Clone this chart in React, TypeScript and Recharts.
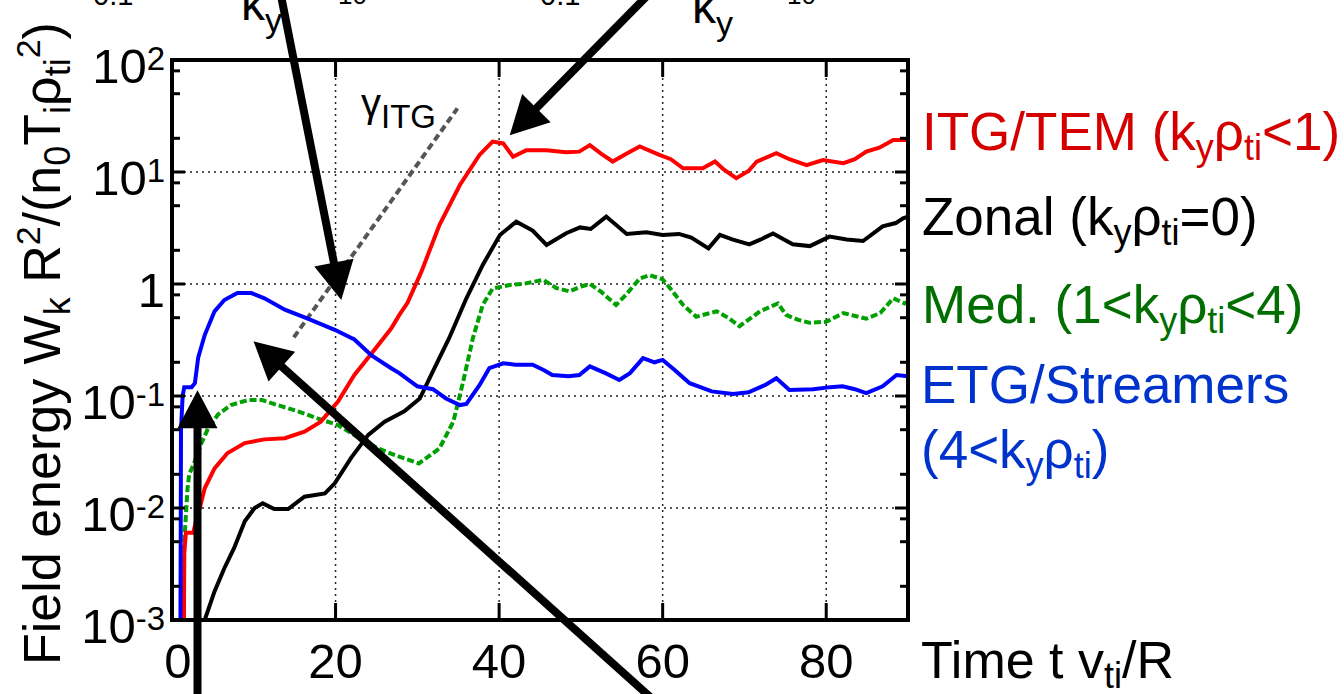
import React from 'react';
import { LineChart, Line, XAxis, YAxis, ReferenceLine } from 'recharts';

const FONT = '"Liberation Sans", Arial, Helvetica, sans-serif';

// ---- data (time t v_ti/R, field energy) ----
const itgT = [1.4, 1.5, 1.7, 2.6, 3.0, 3.4, 4.0, 5.2, 6.8, 8.9, 11.3, 13.8, 16.2, 18.2, 20.3, 22.3, 24.4, 26.8, 27.8, 28.8, 30.5, 32.7, 35.2, 37.6, 39.2, 40.5, 41.7, 43.3, 45.8, 48.2, 49.8, 51.1, 52.5, 53.9, 55.5, 57.2, 59.6, 61.0, 62.5, 64.9, 66.4, 67.5, 69.0, 70.5, 71.5, 73.9, 75.5, 77.6, 79.6, 82.1, 83.5, 84.9, 86.5, 88.2, 90.0];
const itgV = [0.0001, 0.004, 0.006, 0.006, 0.008, 0.010, 0.015, 0.0226, 0.031, 0.038, 0.041, 0.042, 0.048, 0.059, 0.089, 0.154, 0.24, 0.40, 0.53, 0.68, 1.29, 3.36, 7.65, 14.2, 18.7, 18.0, 13.7, 15.6, 15.6, 15.0, 15.2, 17.4, 14.5, 12.4, 14.5, 16.9, 14.2, 13.0, 10.8, 10.8, 12.4, 10.5, 8.8, 10.2, 12.4, 14.7, 13.0, 11.5, 12.8, 12.0, 13.0, 15.2, 16.5, 19.3, 19.3];

const zonalT = [3.8, 4.0, 5.2, 6.4, 7.6, 8.9, 10.1, 11.1, 12.5, 14.2, 16.2, 18.7, 19.9, 21.9, 24.0, 26.0, 28.4, 30.3, 31.9, 33.9, 36.0, 38.0, 40.1, 42.1, 44.1, 45.8, 48.2, 49.9, 51.2, 53.1, 55.6, 58.0, 60.0, 62.0, 63.5, 65.6, 67.0, 68.5, 70.6, 72.0, 73.5, 75.9, 78.0, 80.4, 82.5, 84.5, 86.9, 88.5, 89.4, 90.0];
const zonalV = [0.0008, 0.001, 0.0018, 0.0029, 0.0044, 0.0076, 0.010, 0.011, 0.0098, 0.0098, 0.0126, 0.0135, 0.0166, 0.028, 0.045, 0.059, 0.073, 0.095, 0.166, 0.33, 0.745, 1.48, 2.74, 3.6, 3.0, 2.23, 2.84, 3.2, 3.1, 4.0, 2.8, 2.9, 2.74, 2.8, 2.6, 2.08, 2.74, 2.5, 2.26, 2.5, 2.83, 2.26, 2.18, 2.65, 2.5, 2.42, 3.27, 3.5, 3.86, 4.0];

const medT = [1.3, 1.5, 1.9, 2.1, 2.7, 3.6, 4.4, 5.6, 7.2, 9.3, 11.0, 12.9, 15.4, 17.8, 20.3, 22.7, 25.2, 27.6, 30.2, 32.7, 34.4, 35.6, 36.8, 38.0, 39.2, 41.3, 42.9, 45.4, 47.0, 48.6, 50.0, 51.1, 52.5, 54.3, 55.5, 57.2, 58.4, 60.0, 61.0, 62.5, 64.1, 66.6, 68.0, 69.4, 71.9, 74.1, 75.1, 76.5, 78.0, 80.0, 82.1, 84.9, 86.6, 88.2, 89.6, 90.0];
const medV = [0.0001, 0.005, 0.015, 0.02, 0.025, 0.038, 0.051, 0.068, 0.083, 0.092, 0.092, 0.083, 0.073, 0.063, 0.055, 0.043, 0.034, 0.029, 0.025, 0.034, 0.059, 0.134, 0.33, 0.65, 0.91, 0.98, 1.0, 1.09, 0.92, 0.86, 0.95, 1.0, 0.85, 0.65, 0.80, 1.12, 1.2, 1.1, 0.9, 0.65, 0.51, 0.57, 0.5, 0.42, 0.57, 0.67, 0.53, 0.48, 0.45, 0.46, 0.55, 0.49, 0.55, 0.745, 0.67, 0.7];

const etgT = [1.0, 1.1, 1.3, 1.5, 2.4, 2.8, 3.2, 4.0, 5.2, 6.4, 8.0, 9.7, 11.3, 13.8, 16.6, 19.9, 22.3, 24.4, 26.8, 27.8, 30.0, 31.9, 33.5, 35.2, 36.0, 37.6, 38.8, 40.5, 42.0, 44.1, 45.5, 46.5, 48.5, 49.8, 51.1, 53.0, 54.7, 56.0, 57.6, 59.0, 60.0, 61.5, 63.3, 66.0, 68.6, 70.5, 72.5, 73.9, 75.5, 78.4, 80.5, 82.0, 83.5, 84.9, 86.9, 88.6, 90.0];
const etgV = [0.0001, 0.05, 0.10, 0.12, 0.12, 0.13, 0.22, 0.35, 0.57, 0.72, 0.83, 0.83, 0.745, 0.59, 0.49, 0.39, 0.32, 0.23, 0.177, 0.16, 0.122, 0.115, 0.095, 0.083, 0.085, 0.125, 0.177, 0.196, 0.19, 0.19, 0.17, 0.154, 0.15, 0.154, 0.184, 0.16, 0.139, 0.16, 0.218, 0.20, 0.21, 0.17, 0.13, 0.11, 0.104, 0.108, 0.125, 0.144, 0.113, 0.115, 0.12, 0.122, 0.115, 0.106, 0.122, 0.154, 0.15];

const gammaT = [14.9, 34.9];
const gammaV = [0.334, 37];

// arrows: [tail, tip] in (t, W) coordinates
const arrowA = [{ x: 13.15, y: 437 }, { x: 20.7, y: 0.72 }];
const arrowB = [{ x: 58.4, y: 394 }, { x: 41.3, y: 21.3 }];
const arrowC = [{ x: 3.12, y: 0.0002 }, { x: 3.12, y: 0.1125 }];
const arrowD = [{ x: 58.65, y: 0.0002 }, { x: 9.97, y: 0.308 }];

const xTicks = [0, 20, 40, 60, 80];
const xGrid = [20, 40, 60, 80];
const yTicks = [0.001, 0.002, 0.005, 0.008, 0.01, 0.02, 0.05, 0.08, 0.1, 0.2, 0.5, 0.8, 1, 2, 5, 8, 10, 20, 50, 80, 100];
const yGrid = [0.01, 0.1, 1, 10];

const pts = (t: number[], v: number[]) => t.map((x, i) => ({ t: x, v: v[i] }));

const isMajor = (v: number) => Math.abs(Math.log10(v) - Math.round(Math.log10(v))) < 1e-6;

const LeftTick = (props: any) => {
  const { x, y, payload } = props;
  const v = payload.value;
  const major = isMajor(v);
  const len = major ? 13 : 8;
  const exp = Math.round(Math.log10(v));
  return (
    <g>
      <line x1={x} y1={y} x2={x + len} y2={y} stroke="#000" strokeWidth={3} />
      {major && exp === 0 && (
        <text x={x - 7} y={y + 23} textAnchor="end" fontSize={49} fontFamily={FONT} fill="#000">1</text>
      )}
      {major && exp !== 0 && (
        <text x={x - 7} y={y + 23} textAnchor="end" fontSize={49} fontFamily={FONT} fill="#000">
          10<tspan fontSize={33} dy={-13}>{String(exp)}</tspan>
        </text>
      )}
    </g>
  );
};

const RightTick = (props: any) => {
  const { x, y, payload } = props;
  const major = isMajor(payload.value);
  const len = major ? 13 : 8;
  return <line x1={x} y1={y} x2={x - len} y2={y} stroke="#000" strokeWidth={3} />;
};

const BottomTick = (props: any) => {
  const { x, y, payload } = props;
  const v = payload.value;
  return (
    <g>
      {v !== 0 && <line x1={x} y1={y} x2={x} y2={y - 17} stroke="#000" strokeWidth={3} />}
      <text x={x + (v === 0 ? 6 : 0)} y={y + 58} textAnchor="middle" fontSize={49} fontFamily={FONT} fill="#000">{v}</text>
    </g>
  );
};

const TopTick = (props: any) => {
  const { x, y, payload } = props;
  if (payload.value === 0) return <g />;
  return <line x1={x} y1={y} x2={x} y2={y + 17} stroke="#000" strokeWidth={3} />;
};

const ArrowShape = (p: any) => {
  const { x1, y1, x2, y2 } = p;
  if ([x1, y1, x2, y2].some((n) => typeof n !== 'number' || isNaN(n))) return <g />;
  const dx = x2 - x1;
  const dy = y2 - y1;
  const L = Math.hypot(dx, dy) || 1;
  const ux = dx / L;
  const uy = dy / L;
  const head = 38;
  const half = 20;
  const bx = x2 - ux * head;
  const by = y2 - uy * head;
  const px = -uy;
  const py = ux;
  return (
    <g>
      <line x1={x1} y1={y1} x2={bx + ux * 4} y2={by + uy * 4} stroke="#000" strokeWidth={8} />
      <polygon
        points={`${x2},${y2} ${bx + px * half},${by + py * half} ${bx - px * half},${by - py * half}`}
        fill="#000"
      />
    </g>
  );
};

const Sub = ({ children, size = 36, d = 10 }: any) => (
  <tspan fontSize={size} dy={d}>{children}</tspan>
);

const AXIS_LINE = { stroke: '#000', strokeWidth: 4, strokeLinecap: 'square' as const };

export default function App() {
  return (
    <div style={{ position: 'fixed', left: 0, top: 0, width: 1344, height: 694, background: '#fff', overflow: 'hidden' }}>
      <LineChart width={1344} height={694} margin={{ top: 59, right: 435, bottom: 0, left: 0 }}>
        <XAxis
          type="number"
          dataKey="t"
          domain={[0, 90]}
          ticks={xTicks}
          allowDataOverflow
          height={74}
          axisLine={AXIS_LINE}
          tickLine={false}
          tickSize={0}
          tickMargin={0}
          tick={<BottomTick />}
          interval={0}
        />
        <XAxis
          xAxisId="top"
          orientation="top"
          type="number"
          dataKey="t"
          domain={[0, 90]}
          ticks={xTicks}
          allowDataOverflow
          height={1}
          axisLine={AXIS_LINE}
          tickLine={false}
          tickSize={0}
          tickMargin={0}
          tick={<TopTick />}
          interval={0}
        />
        <YAxis
          type="number"
          scale="log"
          domain={[0.001, 100]}
          ticks={yTicks}
          allowDataOverflow
          width={172}
          axisLine={AXIS_LINE}
          tickLine={false}
          tickSize={0}
          tickMargin={0}
          tick={<LeftTick />}
          interval={0}
        />
        <YAxis
          yAxisId="right"
          orientation="right"
          type="number"
          scale="log"
          domain={[0.001, 100]}
          ticks={yTicks}
          allowDataOverflow
          width={1}
          axisLine={AXIS_LINE}
          tickLine={false}
          tickSize={0}
          tickMargin={0}
          tick={<RightTick />}
          interval={0}
        />
        {yGrid.map((g) => (
          <ReferenceLine key={'gy' + g} y={g} stroke="#222" strokeWidth={1.5} strokeDasharray="2 4" />
        ))}
        {xGrid.map((g) => (
          <ReferenceLine key={'gx' + g} x={g} stroke="#222" strokeWidth={1.5} strokeDasharray="2 4" />
        ))}
        <Line data={pts(gammaT, gammaV)} dataKey="v" stroke="#555555" strokeWidth={4} strokeDasharray="7 4" dot={false} isAnimationActive={false} />
        <Line data={pts(zonalT, zonalV)} dataKey="v" stroke="#000000" strokeWidth={4} dot={false} isAnimationActive={false} />
        <Line data={pts(medT, medV)} dataKey="v" stroke="#00a000" strokeWidth={4} strokeDasharray="7 3" dot={false} isAnimationActive={false} />
        <Line data={pts(itgT, itgV)} dataKey="v" stroke="#ff0000" strokeWidth={4} dot={false} isAnimationActive={false} />
        <Line data={pts(etgT, etgV)} dataKey="v" stroke="#0000ff" strokeWidth={4} dot={false} isAnimationActive={false} />
        <ReferenceLine segment={arrowA} ifOverflow="visible" shape={ArrowShape} />
        <ReferenceLine segment={arrowB} ifOverflow="visible" shape={ArrowShape} />
        <ReferenceLine segment={arrowC} ifOverflow="visible" shape={ArrowShape} />
        <ReferenceLine segment={arrowD} ifOverflow="visible" shape={ArrowShape} />
      </LineChart>
      <svg width={1344} height={694} style={{ position: 'absolute', left: 0, top: 0, pointerEvents: 'none' }} fontFamily={FONT}>
        {/* remnants of the panel above */}
        <text x={93} y={5} fontSize={29} fill="#000">0.1</text>
        <text x={338} y={4} fontSize={26} fill="#000">10</text>
        <text x={241} y={20} fontSize={48} fill="#000">k<Sub size={34} d={12}>y</Sub></text>
        <text x={540} y={5} fontSize={29} fill="#000">0.1</text>
        <text x={787} y={4} fontSize={26} fill="#000">10</text>
        <text x={692} y={23} fontSize={48} fill="#000">k<Sub size={34} d={12}>y</Sub></text>

        {/* gamma ITG label */}
        <text x={361} y={117} fontSize={40} fill="#000">γ<tspan fontSize={33} dy={11}>ITG</tspan></text>

        {/* y-axis label */}
        <text transform="translate(60,665) rotate(-90)" fontSize={52} fill="#000">
          Field energy W<Sub>k</Sub>
          <tspan dy={-10}>{' R'}</tspan>
          <tspan fontSize={34} dy={-20}>2</tspan>
          <tspan dy={20}>/(n</tspan>
          <Sub>0</Sub>
          <tspan dy={-10}>T</tspan>
          <Sub>i</Sub>
          <tspan dy={-10}>ρ</tspan>
          <Sub>ti</Sub>
          <tspan fontSize={34} dy={-30}>2</tspan>
          <tspan dy={20}>)</tspan>
        </text>

        {/* x-axis label */}
        <text x={921} y={678} fontSize={52} fill="#000">
          Time t v<Sub>ti</Sub>
          <tspan dy={-10}>/R</tspan>
        </text>

        {/* series labels */}
        <text x={922} y={150} fontSize={53} fill="#d40000">
          ITG/TEM (k<Sub>y</Sub><tspan dy={-10}>ρ</tspan><Sub>ti</Sub><tspan dy={-10}>&lt;1)</tspan>
        </text>
        <text x={922} y={235} fontSize={53} fill="#000">
          Zonal (k<Sub>y</Sub><tspan dy={-10}>ρ</tspan><Sub>ti</Sub><tspan dy={-10}>=0)</tspan>
        </text>
        <text x={922} y={323} fontSize={53} fill="#006e00">
          Med. (1&lt;k<Sub>y</Sub><tspan dy={-10}>ρ</tspan><Sub>ti</Sub><tspan dy={-10}>&lt;4)</tspan>
        </text>
        <text x={921} y={403} fontSize={53} fill="#0033cc">ETG/Streamers</text>
        <text x={921} y={468} fontSize={53} fill="#0033cc">
          (4&lt;k<Sub>y</Sub><tspan dy={-10}>ρ</tspan><Sub>ti</Sub><tspan dy={-10}>)</tspan>
        </text>
      </svg>
    </div>
  );
}
